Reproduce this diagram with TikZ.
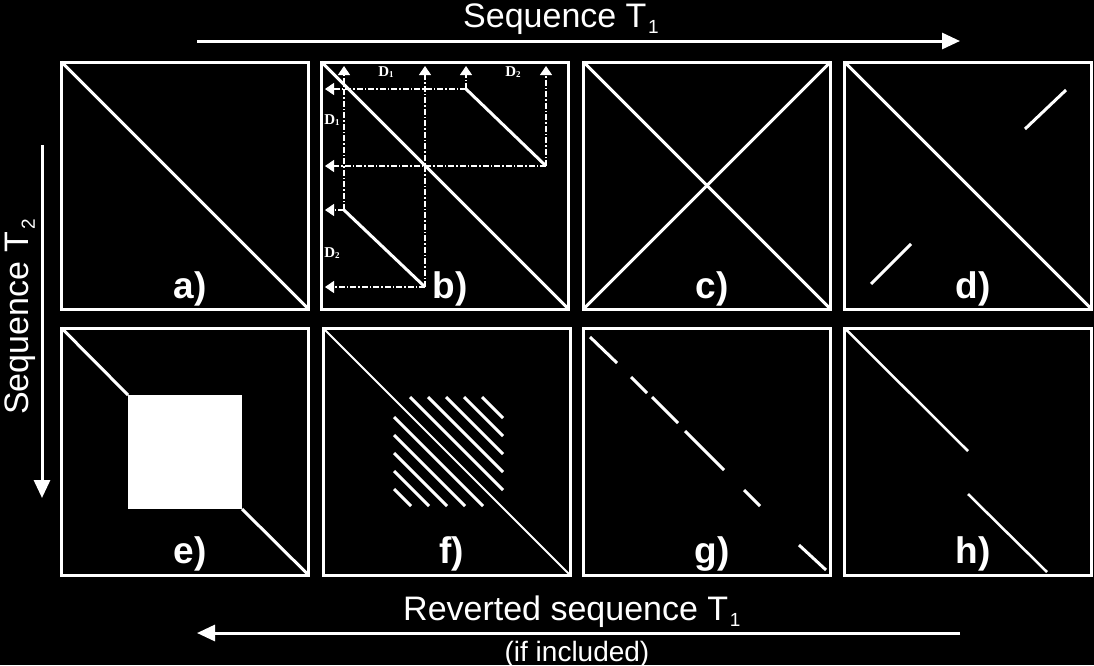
\documentclass[tikz,border=0pt]{standalone}
\usepackage{fontspec}
\setmainfont{Liberation Sans}
\newfontfamily\dfont{Liberation Serif}
\usetikzlibrary{arrows.meta}
\newcommand\subidx[1]{\kern1.5pt\raisebox{-0.2em}{\fontsize{19}{19}\selectfont #1}}
\newcommand\dsub[1]{\raisebox{-1.5pt}{\fontsize{9}{9}\selectfont #1}}
\begin{document}
\begin{tikzpicture}[x=1pt,y=-1pt,
  panel/.style={draw=white,line width=3pt,minimum width=247pt,minimum height=247pt,inner sep=0pt,outer sep=0pt},
  diag/.style={white,line width=3pt},
  thindiag/.style={white,line width=2pt},
  plabel/.style={white,anchor=base,inner sep=0pt,font=\fontsize{37}{37}\selectfont\bfseries},
  title/.style={white,inner sep=0pt,font=\fontsize{34}{40}\selectfont},
  bigarrow/.style={white,line width=3pt,-{Triangle[length=18pt,width=16pt]}},
  dd/.style={white,line width=1.3pt,dash pattern=on 6pt off 2pt on 1.5pt off 2pt},
  ddarrow/.style={dd,-{Triangle[length=9pt,width=12pt]}},
  dlabel/.style={white,inner sep=0pt,font=\dfont\bfseries\fontsize{15}{15}\selectfont}]

\fill[black] (0,0) rectangle (1094,665);
\useasboundingbox (0,0) rectangle (1094,665);

% panels
\node[panel] (pa) at (185,185.5) {};
\node[panel] (pb) at (445,185.5) {};
\node[panel] (pc) at (707,185.5) {};
\node[panel] (pd) at (968,185.5) {};
\node[panel] (pe) at (185,451.5) {};
\node[panel] (pf) at (446.5,451.5) {};
\node[panel] (pg) at (707,451.5) {};
\node[panel] (ph) at (968,451.5) {};

% a)
\draw[diag] (pa.north west) -- (pa.south east);

% b)
\draw[diag] (pb.north west) -- (pb.south east);
\coordinate (b1s) at (466,89);
\coordinate (b1e) at (546,166);
\coordinate (b2s) at (344,210);
\coordinate (b2e) at (425,287);
\coordinate (topy) at (0,66);
\coordinate (leftx) at (325,0);
\draw[diag] (b1s) -- (b1e);
\draw[diag] (b2s) -- (b2e);
\draw[ddarrow] (b1s) -- (b1s |- topy);
\draw[ddarrow] (b1s) -- (b1s -| leftx);
\draw[ddarrow] (b1e) -- (b1e |- topy);
\draw[ddarrow] (b1e) -- (b1e -| leftx);
\draw[ddarrow] (b2s) -- (b2s |- topy);
\draw[ddarrow] (b2s) -- (b2s -| leftx);
\draw[ddarrow] (b2e) -- (b2e |- topy);
\draw[ddarrow] (b2e) -- (b2e -| leftx);
\node[dlabel] (d1t) at (386,72) {D\dsub{1}};
\node[dlabel] (d2t) at (513,72) {D\dsub{2}};
\node[dlabel] (d1l) at (332,120) {D\dsub{1}};
\node[dlabel] (d2l) at (332,253) {D\dsub{2}};

% c)
\draw[diag] (pc.north west) -- (pc.south east);
\draw[diag] (pc.south west) -- (pc.north east);

% d)
\draw[diag] (pd.north west) -- (pd.south east);
\draw[diag] (1025,129) -- (1066,90);
\draw[diag] (871,284) -- (911,244);

% e)
\coordinate (esq1) at (128,395);
\coordinate (esq2) at (242,509);
\draw[diag] (pe.north west) -- (esq1);
\fill[white] (esq1) rectangle (esq2);
\draw[diag] (esq2) -- (pe.south east);

% f)
\draw[thindiag] (pf.north west) -- (pf.south east);
\foreach \k in {-5,-4,-3,-2,-1,1,2,3,4,5}{
  \pgfmathsetmacro\cc{5+18*\k}
  \pgfmathsetmacro\xs{max(394,397-\cc)}
  \pgfmathsetmacro\xe{min(503,506-\cc)}
  \draw[diag] (\xs,\xs+\cc) -- (\xe,\xe+\cc);
}

% g)
\draw[diag] (590,337) -- (617,363);
\draw[diag] (631,377) -- (647,393);
\draw[diag] (652,397) -- (678,423);
\draw[diag] (685,431) -- (724,470);
\draw[diag] (744,490) -- (760,506);
\draw[diag] (799,545) -- (826,570);

% h)
\coordinate (h1) at (968,451);
\coordinate (h2) at (968,494);
\coordinate (h3) at (1047,572);
\draw[white,line width=2.5pt] (ph.north west) -- (h1);
\draw[white,line width=2.5pt] (h2) -- (h3);

% panel labels
\node[plabel] (la) at (190,298) {a)};
\node[plabel] (lb) at (450,298) {b)};
\node[plabel] (lc) at (712,298) {c)};
\node[plabel] (ld) at (973,298) {d)};
\node[plabel] (le) at (190,563) {e)};
\node[plabel] (lf) at (451.5,563) {f)};
\node[plabel] (lg) at (712,563) {g)};
\node[plabel] (lh) at (973,563) {h)};

% axes
\coordinate (ta1) at (197,41);
\coordinate (ta2) at (960,41);
\draw[bigarrow] (ta1) -- (ta2);
\coordinate (la1) at (42,145);
\coordinate (la2) at (42,498);
\draw[bigarrow] (la1) -- (la2);
\coordinate (ba1) at (960,633);
\coordinate (ba2) at (197,633);
\draw[bigarrow] (ba1) -- (ba2);

\node[title,anchor=base west] (t1) at (463,27) {Sequence T\subidx{1}};
\node[title,rotate=90,anchor=base west] (t2) at (28,415) {Sequence T\subidx{2}};
\node[title,anchor=base west] (t3) at (403,620) {Reverted sequence T\subidx{1}};
\node[white,anchor=base,inner sep=0pt,font=\fontsize{28}{28}\selectfont] (t4) at (577,661) {(if included)};
\end{tikzpicture}
\end{document}
